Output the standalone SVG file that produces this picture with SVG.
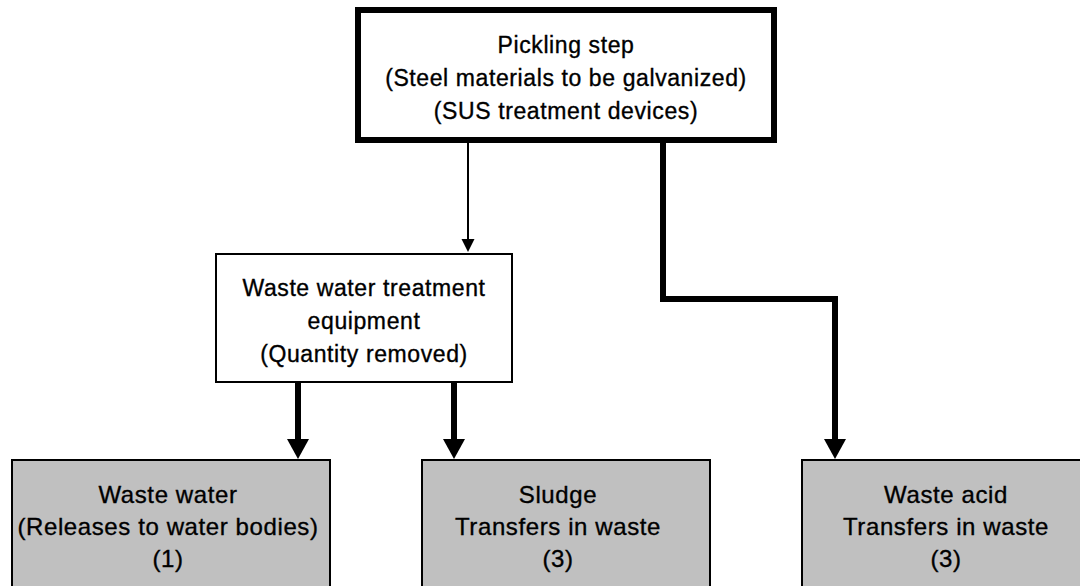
<svg xmlns="http://www.w3.org/2000/svg" width="1080" height="586" viewBox="0 0 1080 586">
  <style>
    .lbl { font-family: "Liberation Sans", Arial, sans-serif; font-size: 23px; fill: #000; stroke: #000; stroke-width: 0.35px; text-anchor: middle; letter-spacing: 0.6px; }
    .big { font-size: 24px; }
    .box { fill: #fff; stroke: #000; stroke-width: 2; }
    .out { fill: #c0c0c0; stroke: #000; stroke-width: 2; }
    .thin { fill: none; stroke: #000; stroke-width: 2; }
    .thick { fill: none; stroke: #000; stroke-width: 6; stroke-linejoin: miter; }
  </style>
  <defs>
    <marker id="headThin" markerUnits="userSpaceOnUse" markerWidth="14" markerHeight="14" refX="7" refY="6.5" orient="auto">
      <path d="M0,0 L13,6.5 L0,13 z" fill="#000"/>
    </marker>
    <marker id="headThick" markerUnits="userSpaceOnUse" markerWidth="22" markerHeight="22" refX="10" refY="11" orient="auto">
      <path d="M0,0 L20,11 L0,22 z" fill="#000"/>
    </marker>
  </defs>

  <rect width="1080" height="586" fill="#fff"/>

  <!-- connectors -->
  <g id="connectors">
    <line class="thin" x1="468" y1="143" x2="468" y2="246" marker-end="url(#headThin)"/>
    <line class="thick" x1="298" y1="382" x2="298" y2="449" marker-end="url(#headThick)"/>
    <line class="thick" x1="454" y1="382" x2="454" y2="449" marker-end="url(#headThick)"/>
    <polyline class="thick" points="663,143 663,299 835,299 835,449" marker-end="url(#headThick)"/>
  </g>

  <!-- pickling step -->
  <g id="pickling">
    <rect x="358" y="10" width="416" height="130" fill="#fff" stroke="#000" stroke-width="6"/>
    <text class="lbl" x="566" y="53">Pickling step</text>
    <text class="lbl" x="566" y="86">(Steel materials to be galvanized)</text>
    <text class="lbl" x="566" y="119">(SUS treatment devices)</text>
  </g>

  <!-- waste water treatment equipment -->
  <g id="treatment">
    <rect class="box" x="216" y="254" width="296" height="128"/>
    <text class="lbl" x="364" y="296">Waste water treatment</text>
    <text class="lbl" x="364" y="329">equipment</text>
    <text class="lbl" x="364" y="362">(Quantity removed)</text>
  </g>

  <!-- waste water -->
  <g id="wastewater">
    <rect class="out" x="12" y="460" width="318" height="140"/>
    <text class="lbl big" x="168" y="503">Waste water</text>
    <text class="lbl big" x="168" y="535">(Releases to water bodies)</text>
    <text class="lbl big" x="168" y="567">(1)</text>
  </g>

  <!-- sludge -->
  <g id="sludge">
    <rect class="out" x="422" y="460" width="288" height="140"/>
    <text class="lbl big" x="558" y="503">Sludge</text>
    <text class="lbl big" x="558" y="535">Transfers in waste</text>
    <text class="lbl big" x="558" y="567">(3)</text>
  </g>

  <!-- waste acid -->
  <g id="wasteacid">
    <rect class="out" x="802" y="460" width="288" height="140"/>
    <text class="lbl big" x="946" y="503">Waste acid</text>
    <text class="lbl big" x="946" y="535">Transfers in waste</text>
    <text class="lbl big" x="946" y="567">(3)</text>
  </g>
</svg>
